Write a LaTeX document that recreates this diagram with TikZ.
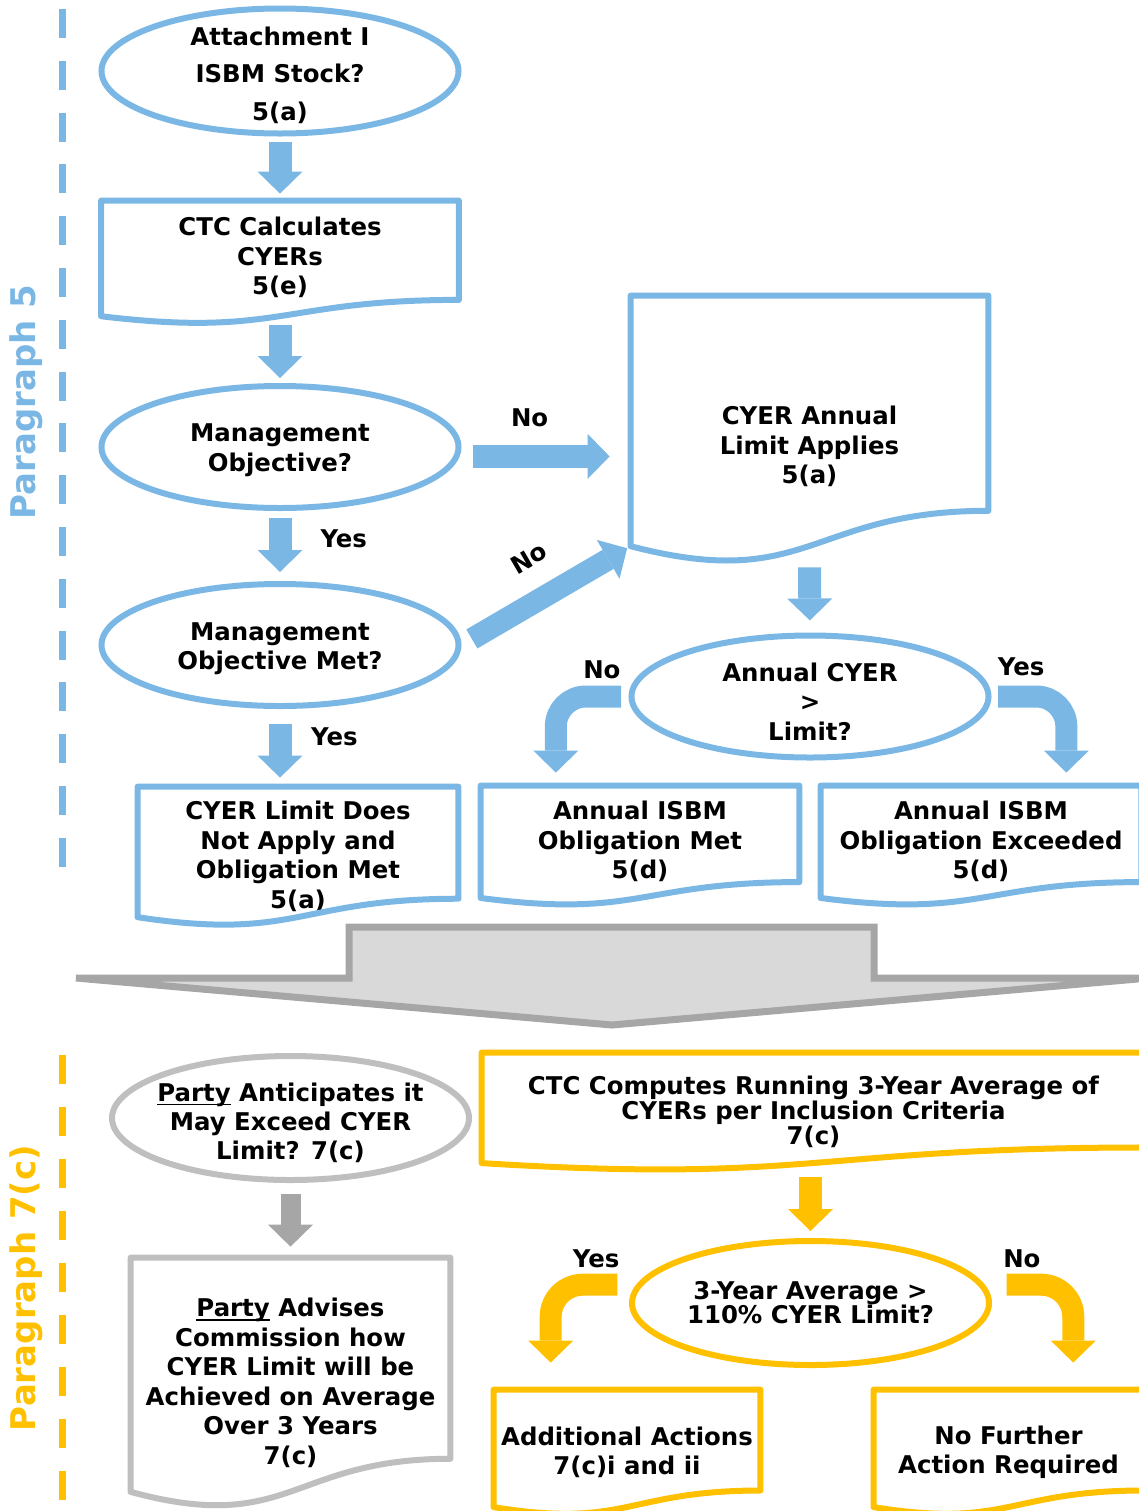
\documentclass[tikz,border=0pt]{standalone}
\usepackage{fontspec}
\setmainfont{DejaVu Sans}
\usepackage{tikz}
\usetikzlibrary{positioning}
\usetikzlibrary{shapes,arrows.meta}
\usetikzlibrary{calc}
\definecolor{paraBlue}{RGB}{123,183,228}
\definecolor{paraGold}{RGB}{255,192,0}
\definecolor{paraGray}{RGB}{191,191,191}
\definecolor{arrowGray}{RGB}{166,166,166}
\definecolor{fillGray}{RGB}{217,217,217}
\tikzstyle{decision}=[ellipse,draw,line width=3pt,minimum width=178.5pt,minimum height=61pt,inner xsep=-8pt,inner ysep=-8pt,align=center]
\tikzstyle{docbox}=[rectangle,inner sep=0pt,align=center]
\tikzstyle{blockedge} = [draw,line width=11.5pt,-{Triangle[length=11pt,width=22.5pt,line width=0pt]}]
\tikzstyle{weight} = [font=\bfseries\fontsize{12.2}{14.75}\selectfont]
\tikzstyle{answer} = [weight,text=black,inner sep=0pt]
% struts to move a text block down (top) or up (bottom)
\newcommand{\up}[1]{\rule[-#1]{0pt}{0pt}}
\newcommand{\down}[1]{\rule{0pt}{#1}}
\newsavebox{\ulbox}
\newcommand{\ulword}[1]{\sbox{\ulbox}{#1}\rlap{\rule[-1.8pt]{\wd\ulbox}{0.9pt}}#1}
\newcommand{\docoutline}[2]{%
  \draw[#2,line width=3pt,line join=round] (#1.north west) -- (#1.north east)
    -- ($(#1.north east)!0.802!(#1.south east)$)
    .. controls ($(#1.north)!0.802!(#1.south)$) and ($(#1.north)!1.1075!(#1.south)$)
    .. ($(#1.north west)!0.934!(#1.south west)$) coordinate (#1-lb) -- cycle;}

\begin{document}
\begin{tikzpicture}[x=0.5pt,y=-0.5pt,weight]
  \useasboundingbox (0,0) rectangle (1139,1511);

    % Paragraph 5
    % First we draw the side bar
    \draw[paraBlue,line width=3.5pt,dash pattern=on 14.5pt off 11.4pt] (62,9) -- (62,868);
    \node[rotate=90,text=paraBlue,font=\bfseries\fontsize{17}{20}\selectfont] (P5) at (26,402) {Paragraph 5};

    % then the questions
    \node[decision,draw=paraBlue,minimum height=62.5pt,font=\bfseries\fontsize{12.2}{18.75}\selectfont] (B1) at (280,71) {\down{13.3pt}Attachment I\\ISBM Stock?\\5(a)};
    \foreach \pos/\name/\label in {{(280,447)/B3/{\down{11.9pt}Management\\Objective?}}, {(280,645)/B4/{\down{12.4pt}Management\\Objective Met?}}, {(810,696.5)/B7/{\down{14.3pt}Annual CYER\\>\\Limit?}}}
        \node[decision,draw=paraBlue] (\name) at \pos {\label};

    % and the documents
    \foreach \pos/\name/\bw/\bh/\label in {{(280,262.5)/B2/178.5pt/61.5pt/{CTC Calculates\\CYERs\\5(e)\up{6.6pt}}}, {(298,856.5)/B5/160pt/69.5pt/{CYER Limit Does\\Not Apply and\\Obligation Met\\5(a)}}, {(809.5,429.75)/B6/178.5pt/133.75pt/{\down{26pt}CYER Annual\\Limit Applies\\5(a)}}, {(640,845.75)/B8/159pt/59.75pt/{Annual ISBM\\Obligation Met\\5(d)\up{5.6pt}}}, {(981,845.75)/B9/160pt/59.75pt/{Annual ISBM\\Obligation Exceeded\\5(d)\up{5.6pt}}}}
        \node[docbox,minimum width=\bw,minimum height=\bh] (\name) at \pos {\label};
    \foreach \name in {B2,B5,B6,B8,B9}
        \docoutline{\name}{paraBlue};

    % Connect them with block arrows
    \path[blockedge,paraBlue,shorten <=2.5pt,shorten >=3.5pt] (B1.south) -- (B2.north);
    \path[blockedge,paraBlue,shorten <=0.5pt,shorten >=2.5pt] (B2.south) -- (B3.north);
    \path[blockedge,paraBlue,shorten <=3.5pt,shorten >=4.5pt] (B3.south) -- node[answer,pos=0.4,right=14.5pt] {Yes} (B4.north);
    \path[blockedge,paraBlue,shorten <=7.5pt,shorten >=4.5pt] (B4.south) -- node[answer,pos=0.36,right=9.8pt] {Yes} (B4.south |- B5.north);
    \path[blockedge,paraBlue,shorten <=6.5pt,shorten >=10.5pt] (B3.-3) -- node[answer,pos=0.41,above=9pt] {No} (B3.-3 -| B6.west);
    \path[blockedge,paraBlue,line width=11pt,shorten <=6pt,shorten >=2pt] (B4.east) -- node[answer,sloped,pos=0.52,above=10.5pt] {No} (B6-lb);
    \path[blockedge,paraBlue,shorten <=1.75pt,shorten >=6pt] (B6.south) -- (B7.north);
    \path[blockedge,paraBlue,line width=11pt,rounded corners=15pt,shorten <=3.75pt,shorten >=6.5pt] (B7.west) -| ($(B8.north west)!0.236!(B8.north east)$) node[answer,pos=0.183,above=3.3pt] {No};
    \path[blockedge,paraBlue,line width=11pt,rounded corners=15pt,shorten <=3.25pt,shorten >=6.5pt] (B7.east) -| ($(B9.north west)!0.766!(B9.north east)$) node[answer,pos=0.198,above=4.8pt] {Yes};

    % From paragraph 5 to paragraph 7(c)
    \draw[draw=arrowGray,fill=fillGray,line width=3.5pt] (349,927) -- (874,927) -- (874,978) -- (1149,978) -- (612,1025) -- (76,978) -- (349,978) -- cycle;

    % Paragraph 7(c)
    \draw[paraGold,line width=3.5pt,dash pattern=on 14.5pt off 11.5pt] (62,1055) -- (62,1500);
    \node[rotate=90,text=paraGold,font=\bfseries\fontsize{17}{20}\selectfont] (P7) at (26,1288) {Paragraph 7(c)};

    \node[decision,draw=paraGray,minimum height=62pt,font=\bfseries\fontsize{12.2}{14.5}\selectfont] (G1) at (290.5,1118) {\down{14.3pt}\ulword{Party} Anticipates it\\May Exceed CYER\\Limit? 7(c)};
    \node[docbox,minimum width=159.5pt,minimum height=125pt] (G2) at (290.5,1383) {\ulword{Party} Advises\\Commission how\\CYER Limit will be\\Achieved on Average\\Over 3 Years\\7(c)};
    \docoutline{G2}{paraGray};
    \path[blockedge,arrowGray,line width=10pt,shorten <=5.5pt,shorten >=5.5pt] (G1.south) -- (G1.south |- G2.north);

    \node[docbox,minimum width=331.5pt,minimum height=58.75pt,font=\bfseries\fontsize{12.2}{12.5}\selectfont] (Y1) at (813.5,1111.75) {CTC Computes Running 3-Year Average of\\CYERs per Inclusion Criteria\\7(c)};
    \node[decision,draw=paraGold,minimum height=62pt,font=\bfseries\fontsize{12.2}{12}\selectfont] (Y2) at (810.5,1303) {3-Year Average >\\110\% CYER Limit?};
    \foreach \pos/\name/\bw/\label in {{(627,1452.5)/Y3/133pt/{Additional Actions\\7(c)i and ii}}, {(1008.5,1452.5)/Y4/134.5pt/{No Further\\Action Required}}}
        \node[docbox,minimum width=\bw,minimum height=62.5pt,font=\bfseries\fontsize{12.2}{14.5}\selectfont] (\name) at \pos {\label};
    \foreach \name in {Y1,Y3,Y4}
        \docoutline{\name}{paraGold};

    \path[blockedge,paraGold,shorten <=3.25pt,shorten >=3.5pt] (Y2.north |- Y1.south) -- (Y2.north);
    \path[blockedge,paraGold,line width=11pt,rounded corners=16pt,shorten <=9.5pt,shorten >=13.5pt] (Y2.174) -| ($(Y3.north west)!0.214!(Y3.north east)$) node[answer,pos=0.235,above=3pt] {Yes};
    \path[blockedge,paraGold,line width=11pt,rounded corners=16pt,shorten <=11pt,shorten >=13.5pt] (Y2.6) -| ($(Y4.north west)!0.74!(Y4.north east)$) node[answer,pos=0.21,above=3pt] {No};

\end{tikzpicture}
\end{document}
